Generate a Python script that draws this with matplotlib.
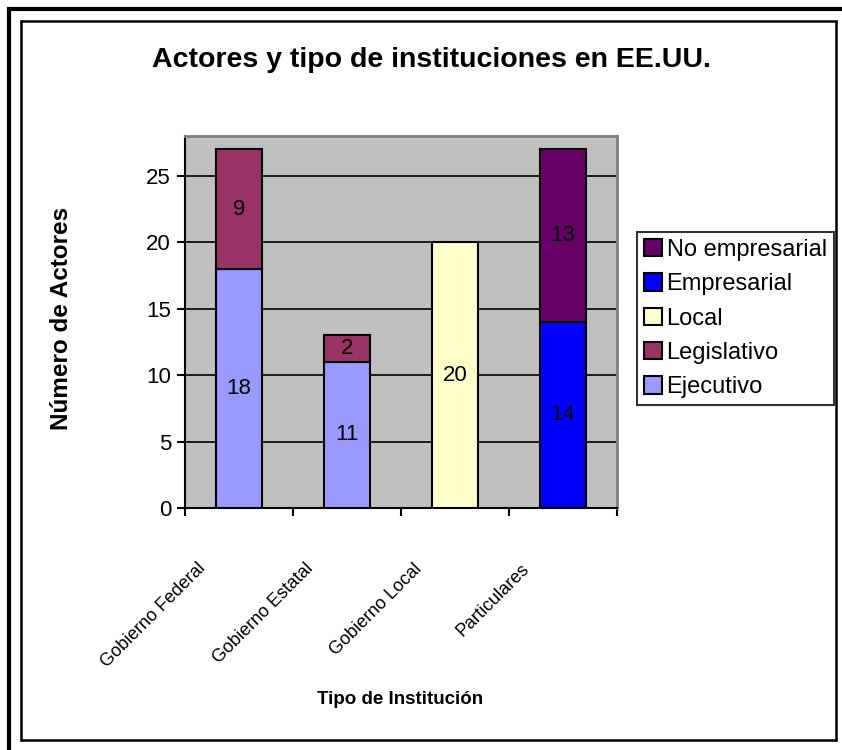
import matplotlib
matplotlib.use("Agg")
import matplotlib.pyplot as plt
import matplotlib.transforms as mtransforms
from matplotlib.lines import Line2D
import numpy as np

plt.rcParams['font.family'] = ['Liberation Sans', 'DejaVu Sans']

# data
categories = ["Gobierno Federal", "Gobierno Estatal", "Gobierno Local", "Particulares"]
ejecutivo = [18, 11, 0, 0]
legislativo = [9, 2, 0, 0]
local = [0, 0, 20, 0]
empresarial = [0, 0, 0, 14]
no_empresarial = [0, 0, 0, 13]

series = [
    ("Ejecutivo", ejecutivo, "#9999FF"),
    ("Legislativo", legislativo, "#993366"),
    ("Local", local, "#FFFFCC"),
    ("Empresarial", empresarial, "#0000FF"),
    ("No empresarial", no_empresarial, "#660066"),
]

W, H = 842, 750
fig = plt.figure(figsize=(W / 100, H / 100), dpi=100)
fig.patch.set_facecolor("white")

ax = fig.add_axes([185 / W, 1 - 508 / H, (617 - 185) / W, (508 - 136) / H])
ax.set_facecolor("#C0C0C0")

x = np.arange(len(categories))
bottom = np.zeros(len(categories))
handles = []
for name, vals, col in series:
    vals = np.array(vals, dtype=float)
    idx = vals > 0
    ax.bar(x[idx], vals[idx], width=0.42, bottom=bottom[idx], color=col,
           edgecolor="black", linewidth=1.5, zorder=3)
    for xi, v, b in zip(x[idx], vals[idx], bottom[idx]):
        ax.text(xi, b + v / 2, f"{int(v)}", ha="center", va="center",
                fontsize=16, zorder=4)
    bottom = bottom + vals
    handles.append(plt.Rectangle((0, 0), 1, 1, facecolor=col, edgecolor="black", linewidth=1.5))

ax.set_xlim(-0.5, 3.5)
ax.set_ylim(0, 28)
ax.set_yticks([0, 5, 10, 15, 20, 25])
ax.yaxis.grid(True, color="black", linewidth=1.2, zorder=1)
ax.set_axisbelow(True)
ax.tick_params(axis="y", labelsize=16, length=6, width=1.5, direction="out", pad=4)

ax.set_xticks(x)
ax.set_xticklabels(categories, rotation=45, ha="right", va="top", fontsize=13)
ax.tick_params(axis="x", which="major", length=0, pad=0)
ax.set_xticks(np.arange(-0.5, 4, 1), minor=True)
ax.tick_params(axis="x", which="minor", length=6, width=1.5, direction="out")
offset = mtransforms.ScaledTranslation(-0.30, -0.52, fig.dpi_scale_trans)
for lab in ax.get_xticklabels():
    lab.set_transform(lab.get_transform() + offset)

for side in ["left", "bottom"]:
    ax.spines[side].set_color("black")
    ax.spines[side].set_linewidth(1.5)
for side in ["top", "right"]:
    ax.spines[side].set_color("#808080")
    ax.spines[side].set_linewidth(2)

fig.text(62 / W, 1 - 318 / H, "Número de Actores", ha="center", va="center",
         rotation=90, fontsize=17.5, fontweight="bold")
fig.text(400 / W, 1 - 700 / H, "Tipo de Institución", ha="center", va="center",
         fontsize=13.5, fontweight="bold")
fig.text(431 / W, 1 - 60 / H, "Actores y tipo de instituciones en EE.UU.", ha="center",
         va="center", fontsize=20.5, fontweight="bold")

labels = [s[0] for s in series]
leg = fig.legend(handles[::-1], labels[::-1], loc="upper left",
                 bbox_to_anchor=(637 / W, 1 - 232 / H), fontsize=17,
                 frameon=True, fancybox=False, borderpad=0.3, labelspacing=0.52,
                 handlelength=0.75, handleheight=0.75, handletextpad=0.2,
                 borderaxespad=0)
leg.get_frame().set_edgecolor("black")
leg.get_frame().set_linewidth(1.5)

# chart frame
def px_line(xs, ys, lw):
    fig.add_artist(Line2D([v / W for v in xs], [1 - v / H for v in ys],
                          transform=fig.transFigure, color="black", linewidth=lw,
                          solid_capstyle="butt"))

px_line([9, 9], [7, 750], 3.0)
px_line([7, 842], [9, 9], 3.0)
px_line([21, 21], [20, 741], 1.8)
px_line([20, 837], [21, 21], 1.8)
px_line([20, 837], [740, 740], 1.8)
px_line([836, 836], [20, 741], 1.8)

fig.savefig("out.png", dpi=100)
